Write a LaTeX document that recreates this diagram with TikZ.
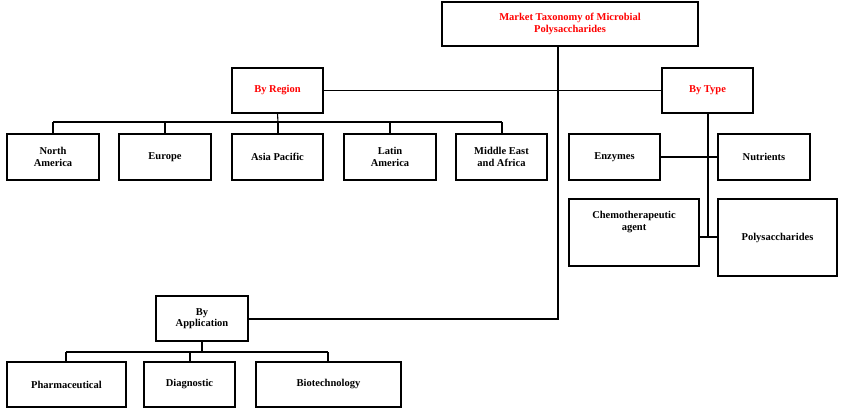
\documentclass[tikz,border=0pt]{standalone}
\usepackage{fontspec}
\setmainfont{Liberation Serif}
\begin{document}
\begin{tikzpicture}[x=1pt,y=-1pt,
  bx/.style={draw,line width=1.1pt,inner sep=0pt,align=center,font=\fontsize{10.5}{11.5}\selectfont\bfseries},
  rd/.style={bx,text=red},
  ln/.style={line width=1.1pt}]
\useasboundingbox (0,0) rectangle (843,412);
\newcommand\bb[6]{\node[#1,minimum width=#4-#2,minimum height=#5-#3] (#6) at ({(#2+#4)/2},{(#3+#5)/2})}
\bb{rd}{442}{2}{698}{46}{t} {Market Taxonomy of Microbial\\Polysaccharides};
\bb{rd}{232}{68}{323}{113}{reg} {By Region};
\bb{rd}{662}{68}{753}{113}{typ} {By Type};
\bb{bx}{7}{134}{99}{180}{na} {North\\America};
\bb{bx}{119}{134}{211}{180}{eu} {Europe};
\bb{bx}{232}{134}{323}{180}{ap} {Asia Pacific};
\bb{bx}{344}{134}{436}{180}{la} {Latin\\America};
\bb{bx}{456}{134}{547}{180}{me} {Middle East\\and Africa};
\bb{bx}{569}{134}{660}{180}{en} {Enzymes};
\bb{bx}{718}{134}{810}{180}{nu} {Nutrients};
\bb{bx}{569}{199}{699}{266}{ch} {Chemotherapeutic\\agent\\[12pt]};
\bb{bx}{718}{199}{837}{276}{po} {Polysaccharides};
\bb{bx}{156}{296}{248}{341}{app} {By\\Application};
\bb{bx}{7}{362}{126}{407}{ph} {Pharmaceutical};
\bb{bx}{144}{362}{235}{407}{di} {Diagnostic};
\bb{bx}{256}{362}{401}{407}{bi} {Biotechnology};
\coordinate (tj) at (558,319);
\draw[ln] (t.south -| tj) -- (tj) -- (app.east |- tj);
\draw[ln] (reg.east) -- (typ.west);
\draw[ln] (reg.south) -- (278,122);
\draw[ln] (53,122) -- (502,122);
\foreach \n/\x in {na/53,eu/165,ap/278,la/390,me/502} \draw[ln] (\x,122) -- (\n.north -| {\x},0);
\draw[ln] (typ.south -| 708,0) -- (708,237);
\draw[ln] (en.east) -- (nu.west);
\draw[ln] (ch.east |- 0,237) -- (po.west |- 0,237);
\draw[ln] (app.south) -- (202,352);
\draw[ln] (66,352) -- (328,352);
\foreach \n/\x in {ph/66,di/190,bi/328} \draw[ln] (\x,352) -- (\n.north -| {\x},0);
\end{tikzpicture}
\end{document}
